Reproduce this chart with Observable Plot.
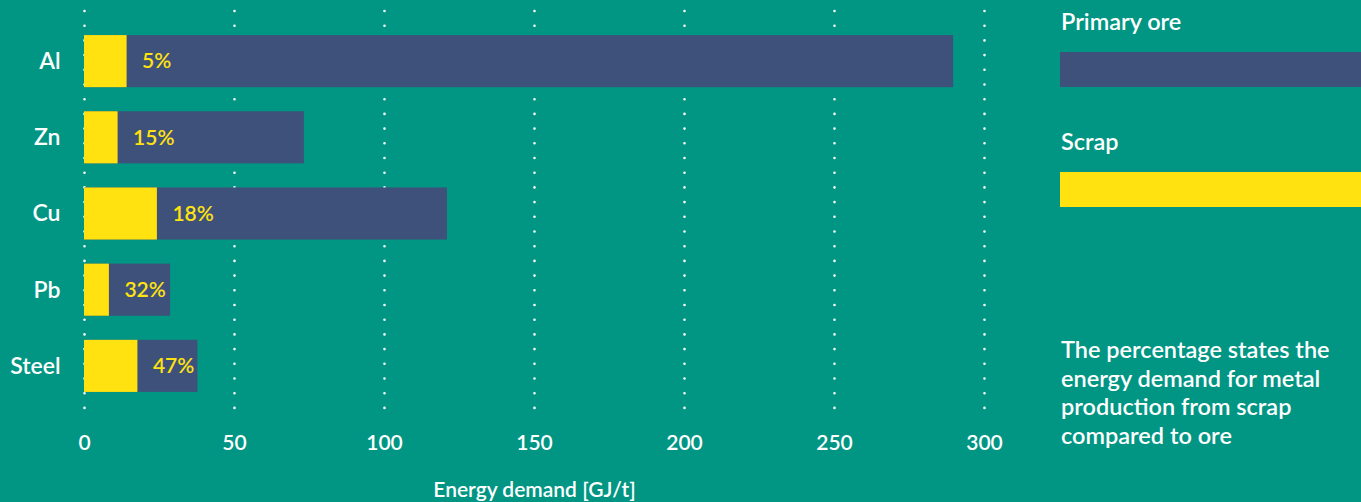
<!DOCTYPE html>
<html>
<head>
<meta charset="utf-8">
<script src="https://cdn.jsdelivr.net/npm/d3@7"></script>
<script src="https://cdn.jsdelivr.net/npm/@observablehq/plot@0.6"></script>
<style>
  html, body { margin: 0; padding: 0; background: #009683; }
  #wrap { position: relative; width: 1361px; height: 502px; overflow: hidden; font-family: Lato, sans-serif; font-weight: 600; color: white; }
  .lg-title { position: absolute; left: 1061px; font-size: 23.5px; line-height: 26px; }
  .lg-swatch { position: absolute; left: 1060px; width: 301px; height: 35px; }
  .note { position: absolute; left: 1061px; top: 335px; font-size: 23.5px; line-height: 28.5px; }
</style>
</head>
<body>
<div id="wrap">
  <div id="chart"></div>
  <div class="lg-title" style="top:8px">Primary ore</div>
  <div class="lg-swatch" style="top:52px;background:#3E517B"></div>
  <div class="lg-title" style="top:128px">Scrap</div>
  <div class="lg-swatch" style="top:172px;background:#FFE20F"></div>
  <div class="note">The percentage states the<br>energy demand for metal<br>production from scrap<br>compared to ore</div>
</div>
<script>
const metals = ["Al", "Zn", "Cu", "Pb", "Steel"];
const primaryOre = [289.7, 73.3, 121, 28.7, 37.8];
const scrap = [14.2, 11.2, 24.3, 8.3, 17.8];
const shares = ["5%", "15%", "18%", "32%", "47%"];
const xTicks = [0, 50, 100, 150, 200, 250, 300];

const navy = "#3E517B";
const yellow = "#FFE20F";

const data = metals.map((m, i) => ({metal: m, primary: primaryOre[i], scrap: scrap[i], share: shares[i]}));

const chart = Plot.plot({
  width: 1361,
  height: 502,
  marginLeft: 84,
  marginRight: 377,
  marginTop: 11,
  marginBottom: 86,
  style: {background: "transparent", color: "white", fontFamily: "Lato, sans-serif", fontSize: "22px", fontWeight: 600},
  x: {domain: [0, 300]},
  y: {domain: metals, padding: 0.316, round: false},
  marks: [
    Plot.ruleX(xTicks, {stroke: "white", strokeWidth: 2.6, strokeDasharray: "0,14.7", strokeLinecap: "round"}),
    Plot.barX(data, {x: "primary", y: "metal", fill: navy}),
    Plot.barX(data, {x: "scrap", y: "metal", fill: yellow}),
    Plot.text(data, {x: "scrap", y: "metal", text: "share", dx: 15, textAnchor: "start", fill: yellow, fontSize: 21, fontWeight: 600}),
    Plot.axisY({tickSize: 0, tickPadding: 24, label: null, fontSize: 23}),
    Plot.axisX({ticks: xTicks, tickSize: 0, tickPadding: 19, fontSize: 21, label: "Energy demand [GJ/t]", labelArrow: "none", labelAnchor: "center", labelOffset: 80})
  ]
});
document.getElementById("chart").appendChild(chart);
</script>
</body>
</html>
